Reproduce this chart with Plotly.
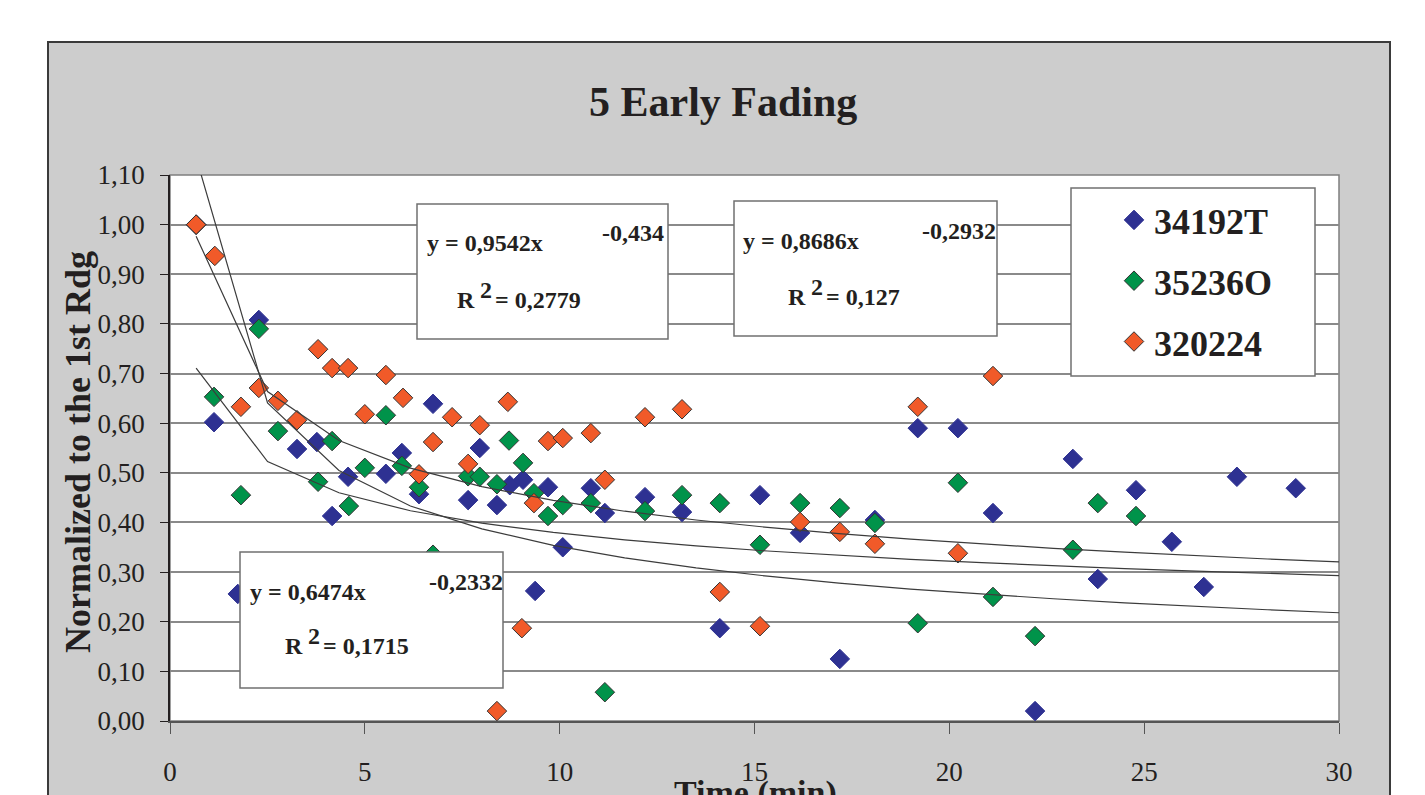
import plotly.graph_objects as go

# ---------------- data ----------------
series_names = ["34192T", "35236O", "320224"]

time_blue = [0.67, 1.13, 1.74, 2.28, 3.26, 3.77, 4.16, 4.57, 5.54, 5.95, 6.39, 6.75, 7.65, 7.95,
             8.39, 8.72, 9.06, 9.37, 9.70, 10.08, 10.80, 11.16, 12.19, 13.14, 14.11, 15.14, 16.17,
             17.19, 18.09, 19.19, 20.22, 21.12, 22.20, 23.17, 23.81, 24.79, 25.71, 26.53, 27.38, 28.89]
val_blue = [1.00, 0.602, 0.256, 0.808, 0.548, 0.562, 0.413, 0.492, 0.498, 0.540, 0.457, 0.639, 0.445,
            0.550, 0.435, 0.475, 0.486, 0.262, 0.471, 0.350, 0.469, 0.419, 0.451, 0.421, 0.187, 0.455,
            0.379, 0.125, 0.405, 0.590, 0.590, 0.419, 0.020, 0.528, 0.286, 0.465, 0.361, 0.270, 0.492, 0.469]

time_green = [0.67, 1.13, 1.82, 2.28, 2.77, 3.80, 4.16, 4.59, 5.00, 5.54, 5.95, 6.39, 6.75, 7.65,
              7.95, 8.39, 8.70, 9.06, 9.34, 9.70, 10.08, 10.80, 11.16, 12.19, 13.14, 14.11, 15.14,
              16.17, 17.19, 18.09, 19.19, 20.22, 21.12, 22.20, 23.17, 23.81, 24.79]
val_green = [1.00, 0.653, 0.455, 0.790, 0.584, 0.482, 0.564, 0.433, 0.510, 0.616, 0.514, 0.471, 0.335,
             0.493, 0.492, 0.477, 0.565, 0.520, 0.459, 0.413, 0.435, 0.439, 0.058, 0.423, 0.455, 0.439,
             0.355, 0.439, 0.429, 0.399, 0.197, 0.480, 0.250, 0.171, 0.345, 0.439, 0.413]

time_orange = [0.67, 1.15, 1.82, 2.28, 2.77, 3.26, 3.80, 4.16, 4.57, 5.00, 5.54, 5.98, 6.39, 6.75,
               7.24, 7.65, 7.95, 8.39, 8.67, 9.03, 9.34, 9.70, 10.08, 10.80, 11.16, 12.19, 13.14,
               14.11, 15.14, 16.17, 17.19, 18.09, 19.19, 20.22, 21.12]
val_orange = [1.000, 0.937, 0.633, 0.671, 0.645, 0.606, 0.749, 0.711, 0.711, 0.618, 0.697, 0.651, 0.497,
              0.562, 0.612, 0.518, 0.596, 0.020, 0.643, 0.187, 0.439, 0.564, 0.570, 0.580, 0.486, 0.612,
              0.628, 0.260, 0.191, 0.401, 0.381, 0.357, 0.633, 0.338, 0.695]

# power trendlines y = a * x^b (as printed on the chart)
trend_a = [0.6474, 0.9542, 0.8686]
trend_b = [-0.2332, -0.434, -0.2932]
trend_r2 = ["0,1715", "0,2779", "0,127"]

y_ticks = [0.0, 0.1, 0.2, 0.3, 0.4, 0.5, 0.6, 0.7, 0.8, 0.9, 1.0, 1.1]
y_ticktext = ["0,00", "0,10", "0,20", "0,30", "0,40", "0,50", "0,60", "0,70", "0,80", "0,90", "1,00", "1,10"]
x_ticks = [0, 5, 10, 15, 20, 25, 30]

# ---------------- styling ----------------
FONT = "Liberation Serif"
TXT = "#231F20"
colors = ["#2E3192", "#00934A", "#F15A29"]
outlines = ["#2E3192", "#333333", "#333333"]

W, H = 1425, 795
L, R, T, B = 170, 1339, 175, 721


def px(xp, yp):
    return (xp - L) / (R - L), (B - yp) / (B - T)


fig = go.Figure()

for i, (tx, vy) in enumerate([(time_blue, val_blue), (time_green, val_green), (time_orange, val_orange)]):
    fig.add_trace(go.Scatter(
        x=tx, y=vy, mode="markers", name=series_names[i], legendgroup=series_names[i],
        marker=dict(symbol="diamond", size=15, color=colors[i],
                    line=dict(color=outlines[i], width=1)),
        cliponaxis=True,
    ))

# trendline vertices (Excel style polyline)
x_start, x_end, nseg = 0.67, 30.0, 16
tx_line = [x_start + k * (x_end - x_start) / nseg for k in range(nseg + 1)]
for a, b in zip(trend_a, trend_b):
    fig.add_trace(go.Scatter(
        x=tx_line, y=[a * xv ** b for xv in tx_line], mode="lines",
        line=dict(color="#3c3c3c", width=1.2), showlegend=False, hoverinfo="skip",
    ))

shapes = []
# gray chart area
gx0, gy1 = px(48, 42)
gx1, gy0 = px(1390, 805)
shapes.append(dict(type="rect", xref="paper", yref="paper", x0=gx0, x1=gx1, y0=gy0, y1=gy1,
                   fillcolor="#CDCDCD", line=dict(color="#3a3a3a", width=2), layer="below"))
shapes.append(dict(type="rect", xref="paper", yref="paper", x0=0, x1=1, y0=0, y1=1,
                   fillcolor="white", line=dict(color="#7f7f7f", width=1.5), layer="below"))


def box(x0p, y0p, x1p, y1p):
    a0, b1 = px(x0p, y0p)
    a1, b0 = px(x1p, y1p)
    shapes.append(dict(type="rect", xref="paper", yref="paper", x0=a0, x1=a1, y0=b0, y1=b1,
                       fillcolor="white", line=dict(color="#707070", width=1.5), layer="above"))


box(417, 204, 668, 339)
box(734, 201, 997, 336)
box(240, 552, 503, 688)
box(1071, 188, 1315, 376)

annotations = []


def text(xp, yp, s, size, anchor="left"):
    a, b = px(xp, yp)
    annotations.append(dict(xref="paper", yref="paper", x=a, y=b, text=s, showarrow=False,
                            xanchor=anchor, yanchor="middle",
                            font=dict(family=FONT, size=size, color=TXT, weight="bold")))


eq_font = 24
# box positions: (eq_left, eq_y, exp_left, exp_y, r_left, r_y)
box_text = [
    (248, 592, 427, 582, 283, 646),
    (425, 243, 600, 233, 455, 300),
    (741, 241, 920, 231, 786, 297),
]
for (a, b, r2), (ex, ey, sx, sy, rx, ry) in zip(zip(trend_a, trend_b, trend_r2), box_text):
    text(ex, ey, "y = " + f"{a:.4f}".replace(".", ",") + "x", eq_font)
    text(sx, sy, f"{b}".replace(".", ","), eq_font)
    text(rx, ry, "R", eq_font)
    text(rx + 23, ry - 10, "2", eq_font)
    text(rx + 38, ry, "= " + r2, eq_font)

# title and axis titles
text(723, 102, "5 Early Fading", 42, anchor="center")
a, b = px(755, 772)
annotations.append(dict(xref="paper", yref="paper", x=a, y=b, text="Time (min)", showarrow=False,
                        xanchor="center", yanchor="top",
                        font=dict(family=FONT, size=34, color=TXT, weight="bold")))
a, b = px(78, 452)
annotations.append(dict(xref="paper", yref="paper", x=a, y=b, text="Normalized to the 1st Rdg",
                        showarrow=False, textangle=-90, xanchor="center", yanchor="middle",
                        font=dict(family=FONT, size=36, color=TXT, weight="bold")))

lx, ly = px(1114, 190)
fig.update_layout(
    width=W, height=H, autosize=False,
    margin=dict(l=L, r=W - R, t=T, b=H - B, pad=0, autoexpand=False),
    paper_bgcolor="white", plot_bgcolor="white",
    shapes=shapes, annotations=annotations,
    showlegend=True,
    legend=dict(x=lx, y=ly, xanchor="left", yanchor="top", bgcolor="rgba(0,0,0,0)",
                borderwidth=0, tracegroupgap=11, itemsizing="trace",
                font=dict(family=FONT, size=36, color=TXT, weight="bold")),
    xaxis=dict(range=[0, 30], tickvals=x_ticks, ticks="outside", ticklen=11, tickcolor="#555555",
               showgrid=False, zeroline=False, showline=True, linecolor="#555555", linewidth=2,
               automargin=False,
               ticklabelstandoff=15, tickfont=dict(family=FONT, size=27, color=TXT)),
    yaxis=dict(range=[0, 1.1], tickvals=y_ticks, ticktext=y_ticktext, ticks="outside", ticklen=8,
               tickcolor=TXT, showgrid=True, gridcolor="#8a8a8a", gridwidth=2, zeroline=False,
               automargin=False,
               showline=True, linecolor=TXT, linewidth=1.5, ticklabelstandoff=10,
               tickfont=dict(family=FONT, size=27, color=TXT)),
)

fig.write_html("out.html")
